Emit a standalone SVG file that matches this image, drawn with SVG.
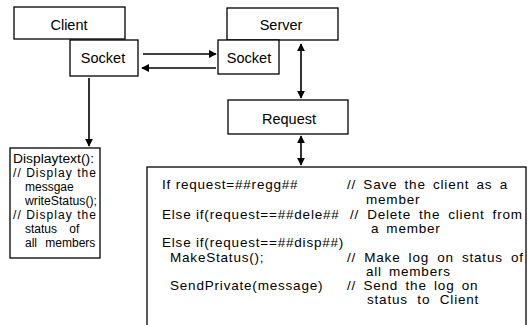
<svg xmlns="http://www.w3.org/2000/svg" width="529" height="325" viewBox="0 0 529 325">
  <style>
    .box { fill: #fff; stroke: #000; stroke-width: 1.3; }
    .lbl { font-family: "Liberation Sans", Arial, sans-serif; font-size: 14.5px; fill: #000; text-anchor: middle; }
    .t { font-family: "Liberation Sans", Arial, sans-serif; font-size: 12px; fill: #000; }
    .c { font-family: "Liberation Sans", Arial, sans-serif; font-size: 13.5px; letter-spacing: 0.8px; fill: #000; }
    .wire { stroke: #000; stroke-width: 1.6; fill: none; }
  </style>
  <defs>
    <marker id="head" viewBox="0 0 10 10" refX="9" refY="5" markerWidth="5" markerHeight="5" orient="auto-start-reverse" markerUnits="strokeWidth">
      <path d="M0,0 L10,5 L0,10 z" fill="#000"/>
    </marker>
  </defs>
  <rect width="529" height="325" fill="#fff"/>

  <g id="client">
    <rect class="box" x="14" y="7" width="111" height="32"/>
    <text class="lbl" x="69" y="30">Client</text>
  </g>
  <g id="client-socket">
    <rect class="box" x="70" y="40" width="68" height="36"/>
    <text class="lbl" x="103" y="63">Socket</text>
  </g>
  <g id="server">
    <rect class="box" x="227" y="8" width="111" height="32"/>
    <text class="lbl" x="281" y="30">Server</text>
  </g>
  <g id="server-socket">
    <rect class="box" x="218" y="40" width="61" height="34"/>
    <text class="lbl" x="249" y="63">Socket</text>
  </g>
  <g id="request">
    <rect class="box" x="228" y="100" width="120" height="34"/>
    <text class="lbl" x="289" y="124">Request</text>
  </g>
  <g id="display">
    <rect class="box" x="10" y="148" width="90" height="110"/>
    <text class="t" x="13" y="163" textLength="81" lengthAdjust="spacingAndGlyphs">Displaytext():</text>
    <text class="t" x="13" y="177" textLength="83" lengthAdjust="spacing">// Display the</text>
    <text class="t" x="25" y="191">messgae</text>
    <text class="t" x="25" y="205" textLength="72" lengthAdjust="spacingAndGlyphs">writeStatus();</text>
    <text class="t" x="13" y="219" textLength="83" lengthAdjust="spacing">// Display the</text>
    <text class="t" x="25" y="233" word-spacing="9">status of</text>
    <text class="t" x="25" y="247" word-spacing="5">all members</text>
  </g>
  <g id="handler">
    <rect class="box" x="147" y="167" width="379" height="170"/>
    <text class="c" x="162" y="189">If request=##regg##</text>
    <text class="c" x="162" y="218.5">Else if(request==##dele##</text>
    <text class="c" x="162" y="247">Else if(request==##disp##)</text>
    <text class="c" x="170" y="261.5">MakeStatus();</text>
    <text class="c" x="170" y="290">SendPrivate(message)</text>
    <text class="c" x="347" y="189" word-spacing="2.7">// Save the client as a</text>
    <text class="c" x="366" y="203.5">member</text>
    <text class="c" x="350" y="218.5" word-spacing="3.5">// Delete the client from</text>
    <text class="c" x="371" y="232.5" word-spacing="2.5">a member</text>
    <text class="c" x="347" y="261.5" word-spacing="3.6">// Make log on status of</text>
    <text class="c" x="366" y="275.5" word-spacing="2.5">all members</text>
    <text class="c" x="347" y="290" word-spacing="2.8">// Send the log on</text>
    <text class="c" x="367" y="304" word-spacing="5">status to Client</text>
  </g>

  <g id="connectors">
    <line class="wire" x1="143" y1="54" x2="216" y2="54" marker-end="url(#head)"/>
    <line class="wire" x1="216" y1="68" x2="142" y2="68" marker-end="url(#head)"/>
    <line class="wire" x1="89" y1="78" x2="89" y2="146" marker-end="url(#head)"/>
    <line class="wire" x1="301" y1="44" x2="301" y2="98" marker-start="url(#head)" marker-end="url(#head)"/>
    <line class="wire" x1="301" y1="136" x2="301" y2="165" marker-start="url(#head)" marker-end="url(#head)"/>
  </g>
</svg>
